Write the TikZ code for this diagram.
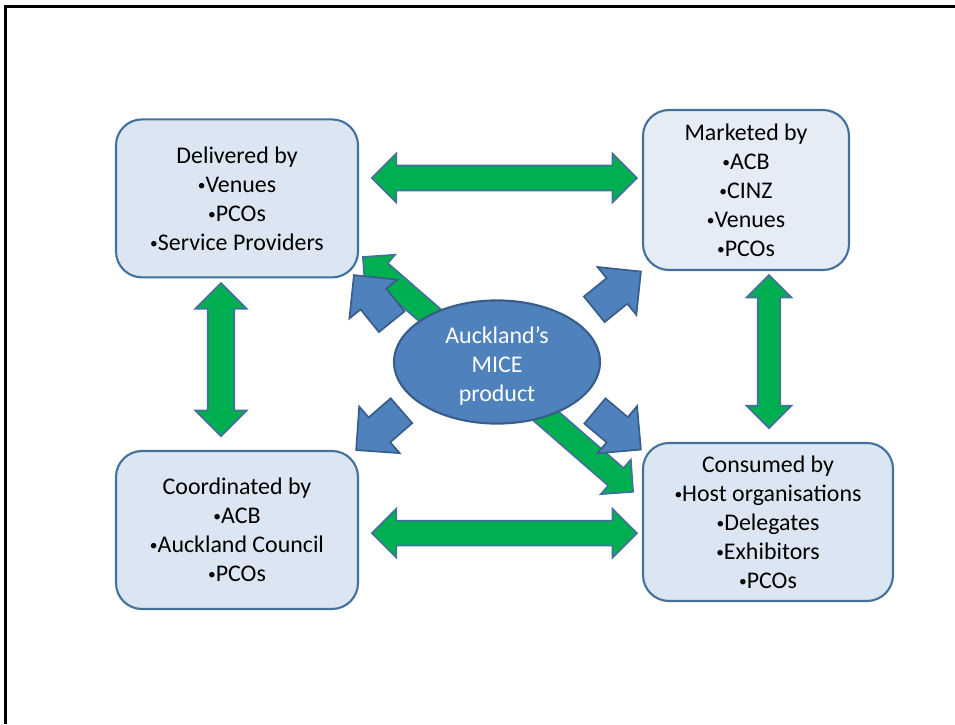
\documentclass[tikz,border=0pt]{standalone}
\usepackage{fontspec}
\setmainfont{Carlito}
\usetikzlibrary{shapes.geometric,shapes.arrows}
\definecolor{boxfill}{HTML}{DCE6F2}
\definecolor{boxfilltwo}{HTML}{E5ECF6}
\definecolor{boxline}{HTML}{41719C}
\definecolor{mice}{HTML}{4F81BD}
\definecolor{miceline}{HTML}{385D8A}
\definecolor{linkgreen}{HTML}{00B050}
\newcommand{\bul}{\raisebox{1.3pt}{\fontsize{11}{11}\selectfont•}}

\begin{document}
\begin{tikzpicture}[
        role/.style={rectangle, rounded corners=0.65cm, draw=boxline, line width=1.5pt, fill=boxfill, align=center, inner sep=0pt, minimum height=3.95cm, font=\fontsize{17}{20.6}\selectfont},
        product/.style={ellipse, draw=miceline, line width=1.5pt, fill=mice, text=white, align=center, inner sep=0pt, minimum width=5.15cm, minimum height=2.9cm, font=\fontsize{17}{20.6}\selectfont},
        link/.style={double arrow, draw=boxline, line width=1.2pt, fill=linkgreen, inner xsep=0pt, inner ysep=0.29cm, double arrow head extend=0.3cm, minimum height=6.625cm},
        push/.style={single arrow, draw=miceline, line width=1.2pt, fill=mice, inner xsep=0pt, inner ysep=0.39cm, single arrow head extend=0.36cm, minimum height=1.5cm}
    ]
        \useasboundingbox (0,0) rectangle (23.875,-18.1);
        \draw[line width=1.6pt] (0.14,-18.1) -- (0.14,-0.16) -- (23.875,-0.16);

        % Roles
        \node[role, minimum width=6.05cm] (del) at (5.925,-4.96) {Delivered by\\\bul Venues\\\bul PCOs\\\bul Service Providers};
        \node[role, minimum width=5.15cm, minimum height=4cm, fill=boxfilltwo] (mkt) at (18.65,-4.75) {Marketed by\\\bul ACB\\\bul CINZ\\\bul Venues\\\bul PCOs};
        \node[role, minimum width=6.05cm] (coo) at (5.925,-13.25) {Coordinated by\\\bul ACB\\\bul Auckland Council\\\bul PCOs};
        \node[role, minimum width=6.25cm] (con) at (19.2,-13.05) {Consumed by\\\bul Host organisations\\\bul Delegates\\\bul Exhibitors\\\bul PCOs};

        % Links between roles
        \node[link] (top) at (12.61,-4.45) {};
        \node[link] (bot) at (12.61,-13.33) {};
        \node[link, rotate=90, minimum height=3.825cm, inner ysep=0.31cm, double arrow head extend=0.31cm] (left) at (5.525,-8.99) {};
        \node[link, rotate=90, minimum height=3.825cm, inner ysep=0.26cm, double arrow head extend=0.28cm] (right) at (19.225,-8.79) {};
        \node[link, rotate=-41, minimum height=8.95cm, inner ysep=0.27cm, double arrow head extend=0.28cm] (diag) at (12.45,-9.36) {};

        % Product
        \node[product] (prod) at (12.425,-9.05) {\rule{0pt}{18pt}Auckland’s\\MICE\\product};

        \node[push, rotate=129] (p1) at (9.45,-7.62) {};
        \node[push, rotate=39] (p2) at (15.28,-7.39) {};
        \node[push, rotate=-139] (p3) at (9.625,-10.625) {};
        \node[push, rotate=-40] (p4) at (15.29,-10.625) {};
    \end{tikzpicture}
\end{document}
